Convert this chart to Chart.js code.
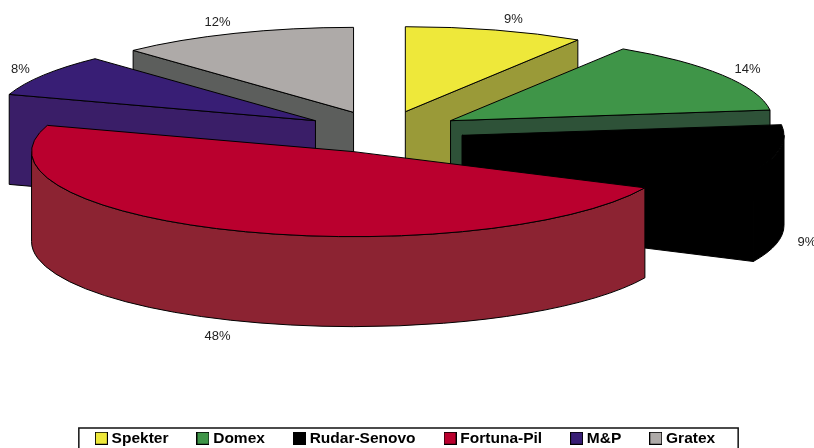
<!DOCTYPE html>
<html>
<head>
<meta charset="utf-8">
<style>html,body{margin:0;padding:0;background:#fff}canvas{display:block}</style>
<script src="https://cdn.jsdelivr.net/npm/chart.js@4"></script>
</head>
<body>
<canvas id="c" width="814" height="448"></canvas>
<script>
const categories = ['Spekter','Domex','Rudar-Senovo','Fortuna-Pil','M&P','Gratex'];
const shares = [9,14,9,48,8,12];
const topColors = ['#EEE83A','#3F9548','#000000','#BA002E','#381E75','#AEAAA8'];
const sideColors = ['#9A9A38','#2E5238','#000000','#8C2332','#3A1E68','#5C5E5C'];
const paintOrder = [0,5,1,4,2,3];

const CX = 383, CY = 132, SQUASH = 0.264, EXPLODE = 80, DEPTH = 90, RADIUS = 322;

const swatches = topColors.map(col => {
  const s = document.createElement('canvas');
  s.width = 13; s.height = 13;
  const g = s.getContext('2d');
  g.fillStyle = col; g.fillRect(0.5,0.5,12,12);
  g.strokeStyle = '#000'; g.lineWidth = 1; g.strokeRect(0.5,0.5,12,12);
  return s;
});

const pie3d = {
  id: 'pie3d',
  beforeDatasetsDraw(chart) {
    const ctx = chart.ctx;
    const arcs = chart.getDatasetMeta(0).data;
    paintOrder.forEach(i => {
      const el = arcs[i];
      const a = el.startAngle, b = el.endAngle, m = (a + b) / 2;
      const rx = el.outerRadius, ry = rx * SQUASH;
      const ax = CX + Math.cos(m) * EXPLODE, ay = CY + Math.sin(m) * EXPLODE * SQUASH;
      const px = t => ax + rx * Math.cos(t), py = t => ay + ry * Math.sin(t);
      ctx.save();
      ctx.lineWidth = 1; ctx.strokeStyle = '#000'; ctx.lineJoin = 'round';
      ctx.fillStyle = sideColors[i];
      const wall = (t) => {
        ctx.beginPath(); ctx.moveTo(ax, ay); ctx.lineTo(px(t), py(t));
        ctx.lineTo(px(t), py(t) + DEPTH); ctx.lineTo(ax, ay + DEPTH); ctx.closePath();
        ctx.fill(); ctx.stroke();
      };
      if (Math.cos(a) < 0) wall(a);
      if (Math.cos(b) > 0) wall(b);
      const from = Math.max(a, 0), to = Math.min(b, Math.PI);
      if (to > from) {
        ctx.beginPath();
        ctx.ellipse(ax, ay, rx, ry, 0, from, to);
        ctx.ellipse(ax, ay + DEPTH, rx, ry, 0, to, from, true);
        ctx.closePath(); ctx.fill(); ctx.stroke();
      }
      ctx.save();
      ctx.translate(CX - el.x, CY - SQUASH * el.y);
      ctx.scale(1, SQUASH);
      ctx.translate(Math.cos(m) * EXPLODE, Math.sin(m) * EXPLODE);
      el.draw(ctx);
      ctx.restore();
      ctx.beginPath();
      ctx.moveTo(ax, ay);
      ctx.ellipse(ax, ay, rx, ry, 0, a, b);
      ctx.closePath(); ctx.stroke();
      const sx = Math.cos(m), sy = Math.sin(m);
      ctx.fillStyle = '#222'; ctx.font = '13px "Liberation Sans"';
      ctx.textAlign = 'center'; ctx.textBaseline = 'middle';
      ctx.fillText(shares[i] + '%',
        ax + rx*sx + Math.sign(sx)*14 + 12*sx + 1,
        ay + ry*sy + (sy > 0 ? DEPTH : 0) + (sy > 0 ? 15.5 : 12.5)*sy + 1);
      ctx.restore();
    });
  },
  beforeDatasetDraw() { return false; },
  afterDraw(chart) {
    const boxes = chart.legend.legendHitBoxes;
    const ctx = chart.ctx;
    const last = boxes[boxes.length-1];
    const l = boxes[0].left - 20, r = last.left + last.width + 23;
    ctx.save();
    ctx.strokeStyle = '#111'; ctx.lineWidth = 1.5;
    ctx.strokeRect(l, 428, r - l, 30);
    ctx.restore();
  }
};

new Chart(document.getElementById('c'), {
  type: 'pie',
  data: { labels: categories, datasets: [{ data: shares, backgroundColor: topColors, borderWidth: 0, clip: false }] },
  plugins: [pie3d],
  options: {
    responsive: false,
    animation: false,
    radius: RADIUS,
    layout: { padding: { bottom: -8 } },
    plugins: {
      tooltip: { enabled: false },
      legend: {
        position: 'bottom',
        labels: {
          usePointStyle: true,
          pointStyleWidth: 5,
          padding: 32,
          color: '#000',
          font: { family: '"Liberation Sans"', size: 15.5, weight: 'bold' },
          generateLabels: () => categories.map((t, i) => ({
            text: t, fillStyle: topColors[i], strokeStyle: '#000', lineWidth: 1,
            pointStyle: swatches[i], hidden: false, index: i, fontColor: '#000'
          }))
        }
      }
    }
  }
});
</script>
</body>
</html>
